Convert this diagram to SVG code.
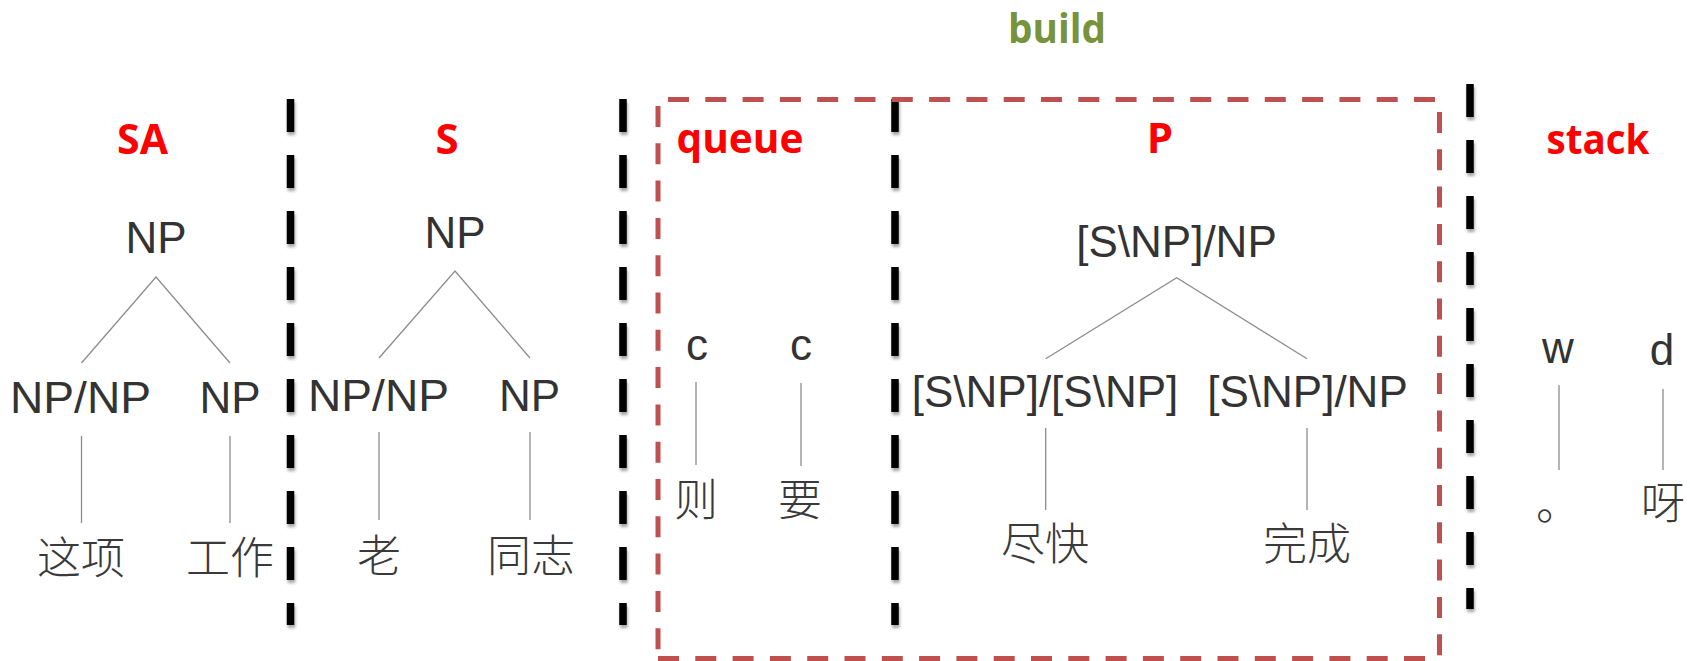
<svg xmlns="http://www.w3.org/2000/svg" width="1690" height="661" viewBox="0 0 1690 661">
<defs>
<style>
.lbl{font-family:"Open Sans","Liberation Sans",sans-serif;font-weight:bold;font-size:42px;fill:#FF0000;text-anchor:middle}
.bld{font-family:"Open Sans","Liberation Sans",sans-serif;font-weight:bold;font-size:42px;fill:#77933C;text-anchor:middle}
.cat{font-family:"Liberation Sans",Arial,sans-serif;font-size:44px;fill:#333333;text-anchor:middle}
.zh{font-family:"Noto Sans CJK SC",sans-serif;font-weight:300;font-size:44px;fill:#3a3a3a;text-anchor:middle}
.ln{stroke:#8c8c8c;stroke-width:1.3;fill:none}
.sep{stroke:#000;stroke-width:7.5;stroke-dasharray:33 23;fill:none}
.box{stroke:#C0504D;stroke-width:5;stroke-dasharray:21 16.3;fill:none}
</style>
<filter id="sh" x="-50%" y="-10%" width="200%" height="120%">
<feDropShadow dx="1" dy="3" stdDeviation="1.6" flood-color="#000" flood-opacity="0.35"/>
</filter>
</defs>
<rect width="1690" height="661" fill="#ffffff"/>

<g id="separators" filter="url(#sh)">
<line class="sep" x1="290.5" y1="99" x2="290.5" y2="625"/>
<line class="sep" x1="623" y1="99" x2="623" y2="625"/>
<line class="sep" x1="895" y1="99" x2="895" y2="625"/>
<line class="sep" x1="1470" y1="84" x2="1470" y2="609"/>
</g>

<g id="build-box">
<line class="box" x1="668" y1="99.5" x2="1437" y2="99.5"/>
<line class="box" x1="1439.5" y1="112" x2="1439.5" y2="656"/>
<line class="box" x1="658" y1="658.5" x2="1440" y2="658.5"/>
<line class="box" x1="658" y1="106" x2="658" y2="650"/>
</g>

<g id="section-labels">
<text id="lbl-build" class="bld" x="1057" y="43" textLength="98" lengthAdjust="spacingAndGlyphs">build</text>
<text id="lbl-SA" class="lbl" x="142.5" y="154" textLength="51" lengthAdjust="spacingAndGlyphs">SA</text>
<text id="lbl-S" class="lbl" x="447" y="154">S</text>
<text id="lbl-queue" class="lbl" x="740" y="153" textLength="127" lengthAdjust="spacingAndGlyphs">queue</text>
<text id="lbl-P" class="lbl" x="1160" y="153">P</text>
<text id="lbl-stack" class="lbl" x="1598" y="154" textLength="103" lengthAdjust="spacingAndGlyphs">stack</text>
</g>

<g id="connectors">
<polyline class="ln" points="81.5,363 156,277 230,363"/>
<line class="ln" x1="81.5" y1="436" x2="81.5" y2="523"/>
<line class="ln" x1="230" y1="436" x2="230" y2="523"/>
<polyline class="ln" points="379,358 455,271 530,358"/>
<line class="ln" x1="379" y1="432" x2="379" y2="520"/>
<line class="ln" x1="530" y1="432" x2="530" y2="520"/>
<line class="ln" x1="696" y1="382" x2="696" y2="465"/>
<line class="ln" x1="801" y1="383" x2="801" y2="466"/>
<polyline class="ln" points="1045.7,358.7 1176.7,277.7 1307,358.7"/>
<line class="ln" x1="1045.7" y1="428" x2="1045.7" y2="510"/>
<line class="ln" x1="1307" y1="428" x2="1307" y2="510"/>
<line class="ln" x1="1559" y1="385" x2="1559" y2="470"/>
<line class="ln" x1="1663" y1="389" x2="1663" y2="470"/>
</g>

<g id="sa-root"><text class="cat" x="156" y="253">NP</text></g>
<g id="sa-left"><text class="cat" x="80.5" y="413" textLength="141" lengthAdjust="spacingAndGlyphs">NP/NP</text></g>
<g id="sa-right"><text class="cat" x="230" y="413">NP</text></g>
<g id="w-zhexiang"><text class="zh" x="81" y="574">这项</text></g>
<g id="w-gongzuo"><text class="zh" x="230" y="574">工作</text></g>

<g id="s-root"><text class="cat" x="455" y="248">NP</text></g>
<g id="s-left"><text class="cat" x="378.5" y="411" textLength="141" lengthAdjust="spacingAndGlyphs">NP/NP</text></g>
<g id="s-right"><text class="cat" x="529.5" y="411">NP</text></g>
<g id="w-lao"><text class="zh" x="379" y="572">老</text></g>
<g id="w-tongzhi"><text class="zh" x="531" y="572">同志</text></g>

<g id="q-c1"><text class="cat" x="697" y="360">c</text></g>
<g id="q-c2"><text class="cat" x="801" y="360">c</text></g>
<g id="w-ze"><text class="zh" x="696" y="516">则</text></g>
<g id="w-yao"><text class="zh" x="800" y="516">要</text></g>

<g id="p-root"><text class="cat" x="1176.5" y="257">[S\NP]/NP</text></g>
<g id="p-left"><text class="cat" x="1045" y="407">[S\NP]/[S\NP]</text></g>
<g id="p-right"><text class="cat" x="1307.5" y="407">[S\NP]/NP</text></g>
<g id="w-jinkuai"><text class="zh" x="1045" y="560">尽快</text></g>
<g id="w-wancheng"><text class="zh" x="1307" y="560">完成</text></g>

<g id="st-w"><text class="cat" x="1558" y="363">w</text></g>
<g id="st-d"><text class="cat" x="1662" y="365">d</text></g>
<g id="w-period"><text class="zh" x="1536" y="520" style="text-anchor:start">。</text></g>
<g id="w-ya"><text class="zh" x="1663" y="519">呀</text></g>
</svg>
